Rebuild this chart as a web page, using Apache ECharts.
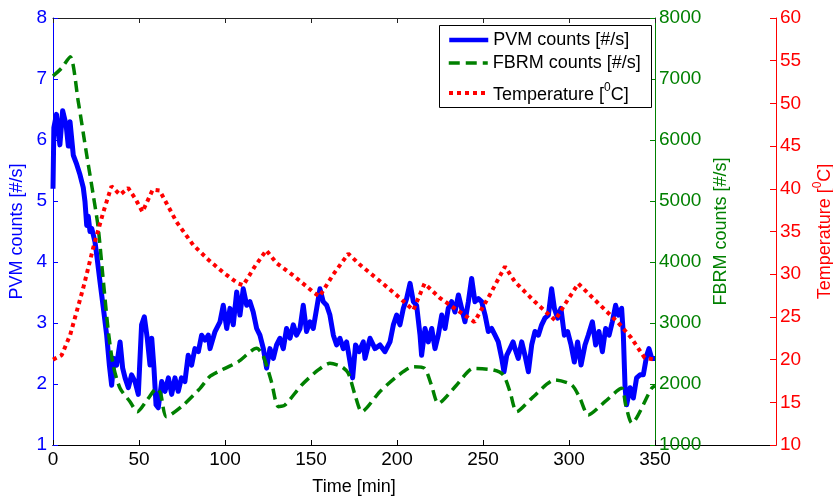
<!DOCTYPE html>
<html>
<head>
<meta charset="utf-8">
<script src="https://cdn.jsdelivr.net/npm/echarts/dist/echarts.min.js"></script>
<style>
html,body{margin:0;padding:0;background:#fff;}
#chart{width:833px;height:504px;}
</style>
</head>
<body>
<div id="chart"></div>
<script>
// ---------- data ----------
const pvmTime = [0,0.5,2,4,5.6,7.6,8.9,9.9,11.8,13.8,15.7,17.6,18.6,19.6,20.5,21.5,22.5,23.4,24.4,25.4,27.3,29.3,31.2,32.8,34.1,35.5,37,39,40.5,41.9,43.8,45.7,47.7,49.6,51.5,53.1,54.8,56.4,57.4,58.7,59.9,61.2,63.2,65.1,67.1,69,70.9,72.8,74.7,76.7,78.6,80.6,82.5,84.5,86.4,88.4,90.3,91.3,94.2,97.1,99,101,102.9,104.8,106.8,108.7,110.6,112.6,114.5,116.4,118.4,120.3,122.3,124.2,126.1,128.1,130,131.9,133.9,135.8,137.8,139.7,141.6,143.6,145.5,147.4,149.4,151.3,153.3,155.2,157.1,159.1,161,163,164.9,166.8,168.8,170.7,172.7,174.2,175.9,177.9,180.4,181.4,184.3,187.2,190.1,193,195.9,197.9,199.8,201.7,203.7,205.6,207.6,209.5,211.4,213.4,214.3,216.3,218.2,220.2,222.1,224,226,227.9,229.8,231.8,233.7,235.7,237.6,239.5,241.5,243.4,245.3,247.3,249.2,251.2,253.1,255,257,258.9,260.9,262.2,263.8,265.7,267.5,268.6,270.5,272.5,274.4,276.4,278.3,280.2,282.2,284.1,286,288,289.9,291.5,293.4,295.3,297.3,299.2,301.2,303.1,305,307,309.3,311.2,313.6,315.5,317.4,319.4,321.3,323.3,325.2,327.1,328.7,330.6,331.6,332.6,333.5,335.5,337.4,339.3,341.3,343.2,345.2,346.5,348.1,350];
const pvmValues = [5.2,6.2,6.42,5.92,6.48,6.25,5.9,6.3,5.75,5.6,5.43,5.22,4.99,4.6,4.75,4.5,4.55,4.45,4.33,4.12,3.68,3.24,2.8,2.3,1.98,2.42,2.31,2.69,2.26,2.1,1.94,2.15,2.04,1.83,2.97,3.1,2.75,2.31,2.75,2.26,1.66,1.61,2.04,1.88,2.1,1.83,2.1,1.88,2.1,2.04,2.47,2.31,2.58,2.53,2.8,2.72,2.8,2.58,2.86,3.02,3.29,2.91,3.24,2.97,3.51,3.13,3.56,3.29,3.35,3.18,2.91,2.8,2.58,2.26,2.58,2.42,2.64,2.75,2.58,2.91,2.75,2.97,2.8,2.91,3.29,2.86,3.02,2.91,3.24,3.56,3.35,3.29,3.13,2.8,2.64,2.75,2.58,2.69,2.36,2.1,2.64,2.53,2.69,2.42,2.75,2.58,2.64,2.53,2.69,2.97,3.13,2.97,3.24,3.4,3.65,3.35,3.29,2.8,2.47,2.91,2.69,2.91,2.58,2.8,3.13,2.91,3.24,3.35,3.18,3.46,3.24,3.02,3.35,3.73,3.35,3.4,3.35,3.13,2.86,2.91,2.8,2.69,2.42,2.2,2.47,2.58,2.69,2.58,2.42,2.69,2.47,2.2,2.64,2.86,2.8,2.97,3.08,3.13,3.56,3.24,3.08,3.24,2.8,2.86,2.64,2.36,2.69,2.31,2.64,2.8,3.02,2.64,2.86,2.53,2.91,2.8,3.02,3.29,3.13,3.24,2.8,1.94,1.66,1.94,1.77,2.1,2.15,2.15,2.47,2.58,2.42,2.42];

const fbrmTime = [0,5,10,14.7,19.6,23.4,26.3,29.3,32.2,35,39,44.8,49,55,60.3,62.5,66,75.8,85.5,91,96,107.7,118.4,122,127,131,134.9,144.6,154.2,161,167.8,171.7,175.6,179.5,190,199.8,209.5,216,220,224,234.7,244.4,256,261.8,265.7,269.6,278.3,291.9,301.6,306.4,311.2,320.9,330.6,333,336.5,348,350];
const fbrmValues = [7050,7180,7366,6628,5754,5098,4557,3677,2857,2311,1929,1710,1546,1750,1929,1850,1464,1656,1929,2120,2202,2366,2585,2475,2038,1628,1656,1984,2230,2339,2284,2175,1820,1546,1874,2120,2284,2257,1984,1683,1984,2257,2230,2148,1874,1546,1765,2066,1984,1765,1492,1710,1929,1650,1360,1929,1970];

const tempTime = [0,5,10,17.6,23.4,29.3,34,39,43.7,48,52,58,62,71.9,81.6,90.3,99,107.7,110.6,117,124,130,140,152,155,163,171.7,178.5,190,200,209.5,216,225,235,245,254,262.8,268.6,280,291.9,298,305.4,317,328.7,336,344,350];
const tempValues = [20,20.5,22.9,28.4,33.1,37.3,40.3,39.3,40.1,38.8,37.3,39.9,39.8,36.1,33.4,31.7,30.2,28.9,28.7,30.8,32.8,31.3,29.8,27.8,27.4,30,32.4,31.1,29.2,27.5,25.8,28.9,27.2,25.8,24.4,27.6,30.9,29.1,26.8,24.6,26.6,28.9,26.6,24.3,22.6,20.2,20];

const seriesNames = ['PVM counts [#/s]','FBRM counts [#/s]','Temperature [0C]'];
const xTickInterval = 50;

// ---------- chart ----------
const FONT = "'Liberation Sans', Arial, sans-serif";
const BLUE = '#0000ff', GREEN = '#008000', RED = '#ff0000';
const TICK_FS = 19, NAME_FS = 18;
const pair = (ts, vs) => ts.map((t, i) => [t, vs[i]]);
const plain = v => String(v);

const chart = echarts.init(document.getElementById('chart'), null, {renderer: 'canvas'});

const legendCommon = {
  orient: 'vertical', left: 447, itemWidth: 39, itemHeight: 18, itemGap: 6, padding: 0,
  textStyle: {fontFamily: FONT, fontSize: 18, color: '#000'}, z: 10,
  itemStyle: {opacity: 0, color: 'rgba(0,0,0,0)', borderColor: 'rgba(0,0,0,0)', borderWidth: 0},
  inactiveColor: '#000'
};

chart.setOption({
  animation: false,
  backgroundColor: '#fff',
  textStyle: {fontFamily: FONT},
  grid: [
    {left: 53, right: 178, top: 18, bottom: 59, containLabel: false, outerBoundsMode: 'none'},
    {left: 53, right: 57, top: 18, bottom: 59, containLabel: false, outerBoundsMode: 'none'}
  ],
  graphic: [{
    type: 'rect', left: 439, top: 25, z: 3,
    shape: {width: 212, height: 82},
    style: {fill: '#fff', stroke: '#000', lineWidth: 1}
  }],
  legend: [
    Object.assign({}, legendCommon, {top: 31, data: [seriesNames[0]],
      lineStyle: {width: 4.5}}),
    Object.assign({}, legendCommon, {top: 54, data: [seriesNames[1]],
      lineStyle: {width: 3.5}}),
    Object.assign({}, legendCommon, {top: 82, data: [seriesNames[2]],
      lineStyle: {width: 4},
      formatter: () => '{a|Temperature [}{s|0}{a|C]}',
      textStyle: {fontFamily: FONT, fontSize: 18, color: '#000',
        rich: {a: {fontSize: 18, lineHeight: 22, fontFamily: FONT, color: '#000', verticalAlign: 'bottom'},
               s: {fontSize: 12, lineHeight: 22, fontFamily: FONT, color: '#000', verticalAlign: 'top'}}}})
  ],
  xAxis: [
    {
      type: 'value', gridIndex: 0, position: 'bottom', min: 0, max: 350, interval: xTickInterval,
      axisLine: {show: true, lineStyle: {color: '#000', width: 1}},
      axisTick: {show: true, inside: true, length: 5, lineStyle: {color: '#000'}},
      axisLabel: {color: '#000', fontSize: TICK_FS, margin: 5, fontFamily: FONT, formatter: plain},
      splitLine: {show: false},
      name: 'Time [min]', nameLocation: 'middle', nameGap: 33,
      nameTextStyle: {color: '#000', fontSize: NAME_FS, fontFamily: FONT}
    },
    {
      type: 'value', gridIndex: 0, position: 'top', min: 0, max: 350, interval: xTickInterval,
      axisLine: {show: true, lineStyle: {color: '#222', width: 1}},
      axisTick: {show: true, inside: true, length: 5, lineStyle: {color: '#222'}},
      axisLabel: {show: false}, splitLine: {show: false}
    },
    {
      type: 'value', gridIndex: 1, position: 'bottom', min: 0, max: 1,
      axisLine: {show: true, onZero: false, lineStyle: {color: '#000', width: 1}},
      axisTick: {show: false}, axisLabel: {show: false}, splitLine: {show: false}
    }
  ],
  yAxis: [
    {
      type: 'value', gridIndex: 0, position: 'left', min: 1, max: 8, interval: 1,
      axisLine: {show: true, onZero: false, lineStyle: {color: BLUE, width: 1}},
      axisTick: {show: true, inside: true, length: 5, lineStyle: {color: BLUE}},
      axisLabel: {color: BLUE, fontSize: TICK_FS, margin: 6, fontFamily: FONT, formatter: plain},
      splitLine: {show: false},
      name: 'PVM counts [#/s]', nameLocation: 'middle', nameGap: 19, nameRotate: 90,
      nameTextStyle: {color: BLUE, fontSize: NAME_FS, fontFamily: FONT}
    },
    {
      type: 'value', gridIndex: 0, position: 'right', min: 1000, max: 8000, interval: 1000,
      axisLine: {show: true, onZero: false, lineStyle: {color: GREEN, width: 1}},
      axisTick: {show: true, inside: true, length: 5, lineStyle: {color: GREEN}},
      axisLabel: {color: GREEN, fontSize: TICK_FS, margin: 4, fontFamily: FONT, formatter: plain},
      splitLine: {show: false},
      name: 'FBRM counts [#/s]', nameLocation: 'middle', nameGap: 52, nameRotate: 90,
      nameTextStyle: {color: GREEN, fontSize: NAME_FS, fontFamily: FONT}
    },
    {
      type: 'value', gridIndex: 0, position: 'right', offset: 121, min: 10, max: 60, interval: 5,
      axisLine: {show: true, onZero: false, lineStyle: {color: RED, width: 1}},
      axisTick: {show: true, inside: true, length: 6, lineStyle: {color: RED}},
      axisLabel: {color: RED, fontSize: TICK_FS, margin: 4, fontFamily: FONT, formatter: plain},
      splitLine: {show: false},
      name: '{a|Temperature [}{s|0}{a|C]}', nameLocation: 'middle', nameGap: 35, nameRotate: 90,
      nameTextStyle: {color: RED, fontSize: NAME_FS, fontFamily: FONT,
        rich: {a: {color: RED, fontSize: NAME_FS, fontFamily: FONT, lineHeight: 22, verticalAlign: 'bottom'},
               s: {color: RED, fontSize: 12, fontFamily: FONT, lineHeight: 22, verticalAlign: 'top'}}}
    },
    {type: 'value', gridIndex: 1, show: false, min: 0, max: 1}
  ],
  series: [
    {
      name: seriesNames[0], type: 'line', xAxisIndex: 0, yAxisIndex: 0,
      data: pair(pvmTime, pvmValues), showSymbol: false, symbol: 'none',
      lineStyle: {color: BLUE, width: 5, join: 'round'}, itemStyle: {color: BLUE}
    },
    {
      name: seriesNames[1], type: 'line', xAxisIndex: 0, yAxisIndex: 1,
      data: pair(fbrmTime, fbrmValues), showSymbol: false, symbol: 'none', smooth: 0.25,
      lineStyle: {color: GREEN, width: 3.5, type: [11, 6]}, itemStyle: {color: GREEN}
    },
    {
      name: seriesNames[2], type: 'line', xAxisIndex: 0, yAxisIndex: 2,
      data: pair(tempTime, tempValues), showSymbol: false, symbol: 'none',
      lineStyle: {color: RED, width: 4, type: [4, 4]}, itemStyle: {color: RED}
    }
  ]
});
</script>
</body>
</html>
